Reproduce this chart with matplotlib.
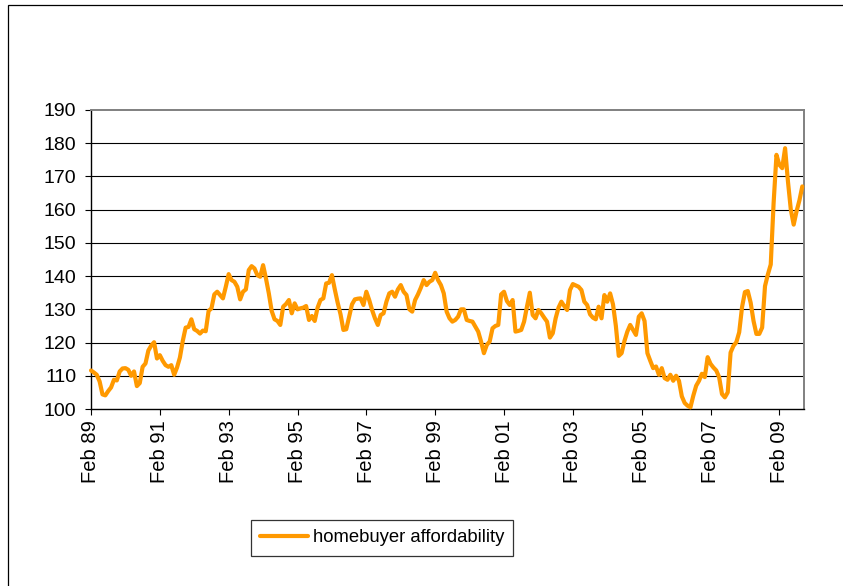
import numpy as np
import matplotlib.pyplot as plt
from matplotlib.patches import Rectangle

plt.rcParams['font.family'] = ['Liberation Sans', 'DejaVu Sans']

# monthly index, Feb 1989 onwards
affordability = [
    111.6, 111.0, 110.3, 108.3, 104.4, 104.1, 105.4, 106.5, 108.8, 108.6,
    111.3, 112.2, 112.3, 111.8, 110.0, 111.3, 106.9, 107.8, 112.7, 113.7,
    117.6, 119.1, 120.1, 115.2, 116.2, 114.5, 113.2, 112.7, 113.2, 110.3,
    112.5, 115.5, 120.5, 124.5, 124.7, 127.0, 124.0, 123.5, 122.7, 123.6,
    123.4, 129.5, 130.3, 134.5, 135.3, 134.3, 133.3, 136.8, 140.6, 138.8,
    138.3, 136.8, 133.0, 135.3, 136.0, 141.8, 143.0, 142.3, 140.3, 139.8,
    143.3, 139.3, 134.8, 129.5, 127.0, 126.5, 125.3, 130.8, 131.6, 132.8,
    128.8, 131.8, 130.0, 130.3, 130.5, 131.0, 126.8, 128.0, 126.5, 130.5,
    132.8, 133.3, 137.8, 138.0, 140.3, 136.0, 132.0, 128.5, 123.8, 124.0,
    127.8, 131.5, 133.0, 133.2, 133.3, 131.3, 135.3, 132.8, 129.8, 127.3,
    125.3, 128.3, 128.8, 132.3, 134.8, 135.3, 133.8, 136.0, 137.3, 135.3,
    134.3, 130.0, 129.3, 132.8, 134.5, 136.5, 138.8, 137.3, 138.3, 138.8,
    141.0, 138.8, 137.3, 134.8, 129.3, 127.3, 126.3, 126.8, 127.8, 130.0,
    130.0, 126.8, 126.5, 126.3, 124.8, 123.3, 120.3, 116.8, 119.3, 120.3,
    124.3, 125.0, 125.3, 134.5, 135.3, 132.5, 131.3, 132.8, 123.3, 123.5,
    123.8, 126.3, 130.8, 135.0, 128.3, 127.3, 129.8, 128.8, 127.5, 126.3,
    121.5, 122.8, 127.3, 130.5, 132.3, 131.0, 129.8, 135.8, 137.6, 137.2,
    136.8, 135.8, 132.3, 131.3, 128.5, 127.5, 127.0, 130.8, 127.3, 134.3,
    132.3, 134.8, 131.5, 125.0, 116.0, 116.8, 120.5, 123.3, 125.3, 123.8,
    122.3, 127.8, 128.8, 126.5, 116.8, 114.5, 112.3, 112.8, 110.3, 112.3,
    109.3, 108.8, 110.3, 108.5, 110.0, 108.5, 103.8, 101.8, 101.0, 100.5,
    104.0, 107.0, 108.5, 110.6, 109.6, 115.6, 113.6, 112.5, 111.6, 109.6,
    104.5, 103.5, 105.0, 117.0, 119.0, 120.1, 123.1, 130.7, 135.2, 135.5,
    132.0, 126.5, 122.6, 122.6, 124.5, 137.0, 140.5, 143.5, 162.0, 176.5,
    173.5, 172.5, 178.5, 168.5, 160.0, 155.5, 159.5, 162.8, 167.0,
]

tick_labels = ['Feb 89', 'Feb 91', 'Feb 93', 'Feb 95', 'Feb 97', 'Feb 99',
               'Feb 01', 'Feb 03', 'Feb 05', 'Feb 07', 'Feb 09']
y_ticks = [100, 110, 120, 130, 140, 150, 160, 170, 180, 190]

W, H = 843, 586
fig = plt.figure(figsize=(W / 100, H / 100), dpi=100)
ax = fig.add_axes([91 / W, 1 - 409 / H, (804.3 - 91) / W, (409 - 110) / H])

x = np.arange(len(affordability))
ax.plot(x, affordability, color='#FF9900', lw=3.0, solid_joinstyle='round',
        solid_capstyle='round', clip_on=False, zorder=3,
        label='homebuyer affordability')

ax.set_xlim(0, 248.7)
ax.set_ylim(100, 190)
ax.set_yticks(y_ticks)
ax.set_xticks(np.arange(0, 24 * len(tick_labels), 24))
ax.set_xticklabels(tick_labels, rotation=90)

for v in y_ticks[1:-1]:
    ax.axhline(v, color='black', lw=0.8, zorder=1)

for s in ['top', 'right']:
    ax.spines[s].set_color('#808080')
    ax.spines[s].set_linewidth(1.4)
for s in ['left', 'bottom']:
    ax.spines[s].set_color('black')
    ax.spines[s].set_linewidth(1.0)

ax.tick_params(axis='y', direction='out', length=4.5, width=0.8, pad=6,
               labelsize=14)
ax.tick_params(axis='x', direction='out', length=4, width=0.8, pad=4,
               labelsize=14.5)

# outer chart border (only left/top visible)
fig.patches.append(Rectangle((8 / W, -0.1), 1.2, 1 - 5 / H + 0.1,
                             transform=fig.transFigure, fill=False,
                             ec='black', lw=0.9))

leg = fig.legend(loc='center', bbox_to_anchor=(382 / W, 1 - 538 / H),
                 fontsize=13.3, frameon=True, fancybox=False,
                 edgecolor='black', handlelength=2.6, borderpad=0.5,
                 handletextpad=0.25, borderaxespad=0)
leg.get_frame().set_linewidth(0.9)

fig.savefig('out.png', dpi=100)
